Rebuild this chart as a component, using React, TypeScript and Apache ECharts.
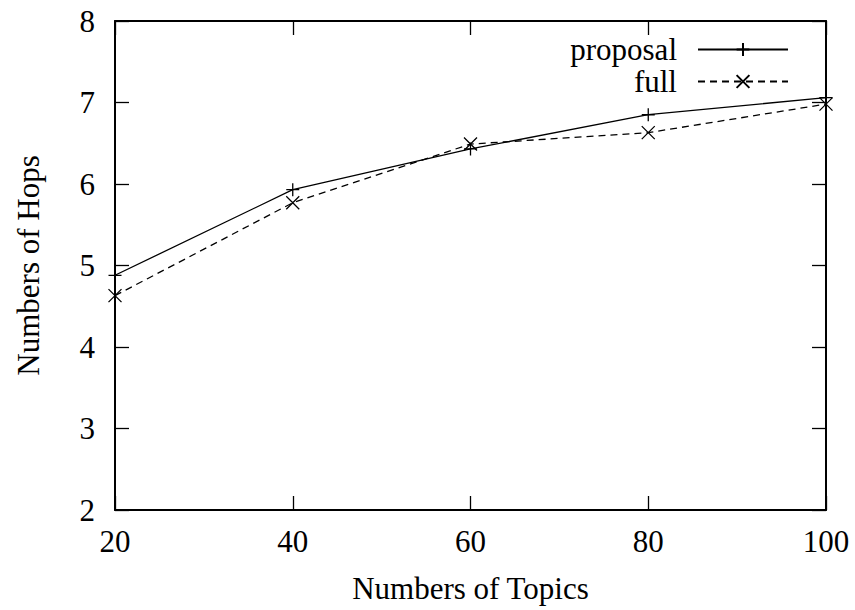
import React, { useEffect, useRef } from "react";
import * as echarts from "echarts";

// Numbers of topics on the x axis
const topics = [20, 40, 60, 80, 100];
// Average hop counts per scheme
const proposalHops = [4.88, 5.93, 6.43, 6.85, 7.06];
const fullHops = [4.63, 5.77, 6.49, 6.63, 6.98];

const FONT = "Liberation Serif";
const FS = 31;
const PLUS = "path://M5,0L5,10M0,5L10,5";
const CROSS = "path://M0,0L10,10M0,10L10,0";

export default function App() {
  const ref = useRef<HTMLDivElement>(null);

  useEffect(() => {
    if (!ref.current) return;
    const chart = echarts.init(ref.current, null, { renderer: "svg" });

    const axisCommon = {
      axisLine: { show: true, lineStyle: { color: "#000", width: 2 } },
      axisTick: { show: true, inside: true, length: 14, lineStyle: { color: "#000", width: 1.3 } },
      splitLine: { show: false },
    };

    chart.setOption({
      animation: false,
      backgroundColor: "#fff",
      textStyle: { fontFamily: FONT },
      grid: { left: 115, right: 29, top: 21, bottom: 100, show: false },
      legend: {
        orient: "vertical",
        right: 66,
        top: 34,
        padding: 0,
        align: "right",
        itemWidth: 90,
        itemHeight: 16,
        itemGap: 1,
        textStyle: {
          fontFamily: FONT,
          fontSize: FS,
          lineHeight: 30,
          color: "#000",
          padding: [0, 16, 0, 0],
        },
        data: ["proposal", "full"],
      },
      xAxis: [
        {
          type: "value",
          min: 20,
          max: 100,
          interval: 20,
          position: "bottom",
          name: "Numbers of Topics",
          nameLocation: "middle",
          nameGap: 63,
          nameTextStyle: { fontFamily: FONT, fontSize: FS, color: "#000" },
          axisLabel: { fontFamily: FONT, fontSize: FS, color: "#000", margin: 16 },
          ...axisCommon,
        },
        {
          type: "value",
          min: 20,
          max: 100,
          interval: 20,
          position: "top",
          axisLabel: { show: false },
          ...axisCommon,
        },
      ],
      yAxis: [
        {
          type: "value",
          min: 2,
          max: 8,
          interval: 1,
          position: "left",
          name: "Numbers of Hops",
          nameLocation: "middle",
          nameGap: 71,
          nameTextStyle: { fontFamily: FONT, fontSize: FS, color: "#000" },
          axisLabel: { fontFamily: FONT, fontSize: FS, color: "#000", margin: 20 },
          ...axisCommon,
        },
        {
          type: "value",
          min: 2,
          max: 8,
          interval: 1,
          position: "right",
          axisLabel: { show: false },
          ...axisCommon,
        },
      ],
      series: [
        {
          name: "proposal",
          type: "line",
          data: topics.map((t, i) => [t, proposalHops[i]]),
          symbol: PLUS,
          symbolSize: 13,
          showAllSymbol: true,
          lineStyle: { color: "#000", width: 1.3, type: "solid" },
          itemStyle: { color: "#000", borderColor: "#000", borderWidth: 1.3 },
          z: 3,
        },
        {
          name: "full",
          type: "line",
          data: topics.map((t, i) => [t, fullHops[i]]),
          symbol: CROSS,
          symbolSize: 13,
          showAllSymbol: true,
          lineStyle: { color: "#000", width: 1.3, type: [7, 5] },
          itemStyle: { color: "#000", borderColor: "#000", borderWidth: 1.3 },
          z: 3,
        },
      ],
    });

    return () => chart.dispose();
  }, []);

  return (
    <div
      ref={ref}
      style={{ position: "fixed", left: 0, top: 0, width: 855, height: 610, background: "#fff" }}
    />
  );
}
